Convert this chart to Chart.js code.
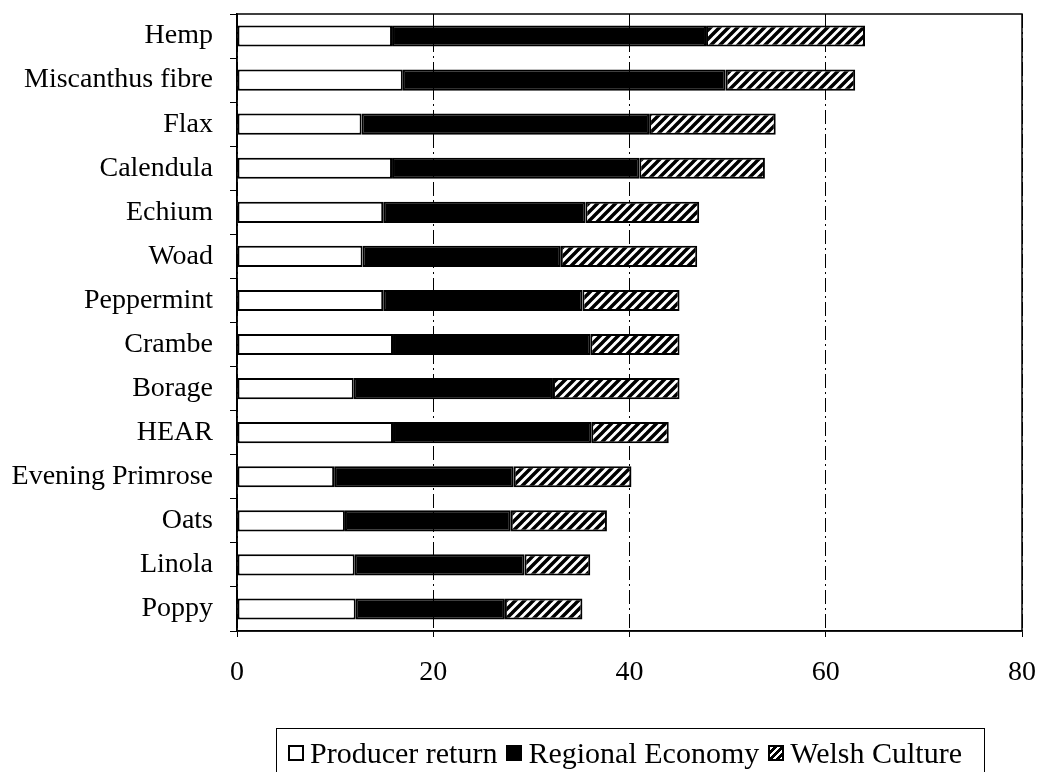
<!DOCTYPE html>
<html>
<head>
<meta charset="utf-8">
<script src="https://cdn.jsdelivr.net/npm/chart.js@4.4.1/dist/chart.umd.min.js"></script>
<style>
  html, body { margin: 0; padding: 0; background: #fff; }
  #wrap { position: relative; width: 1043px; height: 772px; overflow: hidden; }
  #legend {
    position: absolute; left: 276px; top: 728px; width: 709px; height: 60px;
    border: 1.5px solid #000; box-sizing: border-box;
    font: 30px "Liberation Serif", "Times New Roman", serif; color: #000;
    display: flex; align-items: flex-start; padding: 6px 0 0 11px; white-space: nowrap;
  }
  .item { display: flex; align-items: center; margin-right: 9px; height: 36px; }
  .sw { width: 12px; height: 12px; border: 2px solid #000; margin-right: 6px; background: #fff; }
  .sw.black { background: #000; }
  .sw.hatch { background: repeating-linear-gradient(135deg, #fff 0 2.5px, #000 2.5px 5px); }
</style>
</head>
<body>
<div id="wrap">
  <canvas id="chart" width="1043" height="772"></canvas>
  <div id="legend">
    <span class="item"><span class="sw"></span>Producer return</span>
    <span class="item"><span class="sw black"></span>Regional Economy</span>
    <span class="item"><span class="sw hatch"></span>Welsh Culture</span>
  </div>
</div>
<script>
// crops, top to bottom
const crops = ['Hemp', 'Miscanthus fibre', 'Flax', 'Calendula', 'Echium', 'Woad', 'Peppermint',
  'Crambe', 'Borage', 'HEAR', 'Evening Primrose', 'Oats', 'Linola', 'Poppy'];

// stacked components
const producerReturn = [15.8, 16.9, 12.7, 15.8, 14.9, 12.8, 14.9, 15.9, 11.9, 15.9, 9.9, 11.0, 12.0, 12.1];
const regionalEconomy = [32.0, 32.9, 29.3, 25.2, 20.6, 20.2, 20.3, 20.1, 20.3, 20.2, 18.3, 16.9, 17.3, 15.2];
const welshCulture = [16.2, 13.2, 12.9, 12.8, 11.6, 13.9, 9.9, 9.1, 12.9, 7.9, 12.0, 9.8, 6.7, 7.9];

const xTicks = [0, 20, 40, 60, 80];

const FONT = '"Liberation Serif", "Times New Roman", serif';

function hatchPattern() {
  const s = 9;
  const c = document.createElement('canvas');
  c.width = s; c.height = s;
  const g = c.getContext('2d');
  g.fillStyle = '#fff';
  g.fillRect(0, 0, s, s);
  g.strokeStyle = '#000';
  g.lineWidth = 3.5;
  g.beginPath();
  for (let k = 0; k <= 2; k++) {
    g.moveTo(k * s + 1, -1);
    g.lineTo(k * s - s - 1, s + 1);
  }
  g.stroke();
  return g.createPattern(c, 'repeat');
}

// closes the plot frame (top and right edges)
const frame = {
  id: 'frame',
  afterDraw(chart) {
    const { ctx, chartArea: a } = chart;
    ctx.save();
    ctx.strokeStyle = '#000';
    ctx.lineWidth = 1.5;
    ctx.strokeRect(a.left, a.top, a.right - a.left, a.bottom - a.top);
    ctx.restore();
  }
};

const bar = { borderColor: '#000', borderWidth: 2, borderSkipped: false, barPercentage: 0.48, categoryPercentage: 1 };

new Chart(document.getElementById('chart'), {
  type: 'bar',
  data: {
    labels: crops,
    datasets: [
      { label: 'Producer return', data: producerReturn, backgroundColor: '#fff', ...bar },
      { label: 'Regional Economy', data: regionalEconomy, backgroundColor: '#000', ...bar },
      { label: 'Welsh Culture', data: welshCulture, backgroundColor: hatchPattern(), ...bar },
    ],
  },
  options: {
    indexAxis: 'y',
    responsive: false,
    animation: false,
    layout: { padding: { left: 0, top: 14, right: 21, bottom: 81 } },
    plugins: { legend: { display: false }, tooltip: { enabled: false } },
    scales: {
      x: {
        stacked: true, min: 0, max: 80,
        afterBuildTicks: (s) => { s.ticks = xTicks.map((v) => ({ value: v })); },
        afterFit: (s) => { s.height = 60; s.paddingLeft = 0; s.paddingRight = 0; },
        border: { color: '#000', width: 1.5, dash: [14, 4, 2, 4] },
        grid: { color: '#000', lineWidth: 1, tickLength: 6, tickBorderDash: [] },
        ticks: { color: '#000', padding: 19, font: { family: FONT, size: 28 } },
      },
      y: {
        stacked: true,
        afterFit: (s) => { s.width = 237; s.paddingTop = 0; s.paddingBottom = 0; },
        border: { color: '#000', width: 1.5 },
        grid: { color: '#000', drawOnChartArea: false, tickLength: 7, offset: true },
        ticks: { color: '#000', padding: 17, font: { family: FONT, size: 28 } },
      },
    },
  },
  plugins: [frame],
});
</script>
</body>
</html>
